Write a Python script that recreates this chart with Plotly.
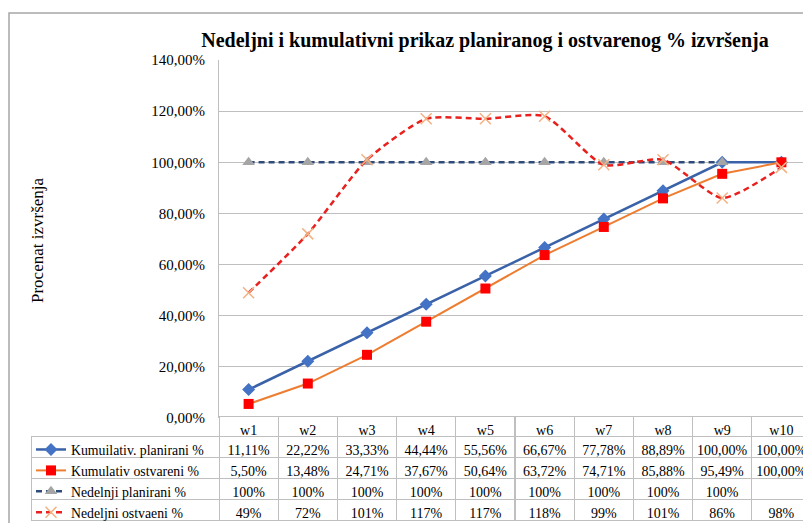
import plotly.graph_objects as go

weeks = ["w1", "w2", "w3", "w4", "w5", "w6", "w7", "w8", "w9", "w10"]
kum_plan = [11.11, 22.22, 33.33, 44.44, 55.56, 66.67, 77.78, 88.89, 100.00, 100.00]
kum_ostv = [5.50, 13.48, 24.71, 37.67, 50.64, 63.72, 74.71, 85.88, 95.49, 100.00]
ned_plan = [100, 100, 100, 100, 100, 100, 100, 100, 100, None]
ned_ostv = [49, 72, 101, 117, 117, 118, 99, 101, 86, 98]

names = ["Kumuilativ. planirani %", "Kumulativ ostvareni %",
         "Nedelnji planirani %", "Nedeljni ostvaeni %"]
yticks = [0, 20, 40, 60, 80, 100, 120, 140]

# page body has an 8px margin: figure is sized so it ends at the window edge
OFF = 8
W, H = 811 - OFF, 523 - OFF
FONT = "Liberation Serif"
GRID = "#bfbfbf"


def fx(px):
    return (px - OFF) / W


def fy(py):
    return 1 - (py - OFF) / H


def fmt2(v):
    return "" if v is None else f"{v:.2f}".replace(".", ",") + "%"


def fmt0(v):
    return "" if v is None else f"{v:.0f}%"


fig = go.Figure()

fig.add_trace(go.Scatter(
    x=weeks, y=kum_plan, name=names[0], mode="lines+markers",
    line=dict(color="#3A62A8", width=2.5),
    marker=dict(symbol="diamond", size=10, color="#4472C4"),
))
fig.add_trace(go.Scatter(
    x=weeks, y=kum_ostv, name=names[1], mode="lines+markers",
    line=dict(color="#ED7D31", width=2),
    marker=dict(symbol="square", size=10, color="#FF0000"),
))
fig.add_trace(go.Scatter(
    x=weeks, y=ned_plan, name=names[2], mode="lines+markers",
    line=dict(color="#2F4B7C", width=2.5, dash="6px,4px"),
    marker=dict(symbol="triangle-up", size=11, color="#A5A5A5"),
))
fig.add_trace(go.Scatter(
    x=weeks, y=ned_ostv, name=names[3], mode="lines+markers",
    line=dict(color="#E8211E", width=2.5, dash="6px,4px", shape="spline", smoothing=0.6),
    marker=dict(symbol="x-thin", size=11, color="#F4B183",
                line=dict(color="#F4B183", width=1.5)),
))

# data table below the plot
header_vals = [""] + weeks
cell_vals = [[""] * 4]
for i in range(len(weeks)):
    cell_vals.append([fmt2(kum_plan[i]), fmt2(kum_ostv[i]),
                      fmt0(ned_plan[i]), fmt0(ned_ostv[i])])

fig.add_trace(go.Table(
    domain=dict(x=[fx(31), 1], y=[0, fy(416)]),
    columnwidth=[188] + [59.2] * 10,
    header=dict(values=header_vals, height=20, align="center",
                fill=dict(color=["rgba(0,0,0,0)"] + ["white"] * 10),
                line=dict(color=["rgba(0,0,0,0)"] + [GRID] * 10, width=1),
                font=dict(family=FONT, size=14, color="#000000")),
    cells=dict(values=cell_vals, height=21, align="center",
               fill=dict(color="white"),
               line=dict(color=GRID, width=1),
               font=dict(family=FONT, size=14, color="#000000")),
))

fig.update_layout(
    width=W, height=H,
    margin=dict(l=0, r=0, t=0, b=0, autoexpand=False),
    paper_bgcolor="white", plot_bgcolor="white",
    font=dict(family=FONT, size=15, color="#000000"),
    title=dict(text="Nedeljni i kumulativni prikaz planiranog i ostvarenog % izvršenja",
               x=fx(485), xanchor="center", y=fy(40), yanchor="middle",
               font=dict(family=FONT, size=20, color="#000000", weight="bold")),
    showlegend=True,
    legend=dict(x=fx(31), xanchor="left", y=fy(434), yanchor="top",
                bgcolor="rgba(0,0,0,0)", font=dict(family=FONT, size=13.8, color="#000000"),
                traceorder="normal"),
    xaxis=dict(domain=[fx(219), 1], type="category", range=[-0.5, 9.5],
               showticklabels=False, showgrid=False, zeroline=False, ticks="",
               automargin=False),
    yaxis=dict(domain=[fy(418), fy(60)], range=[0, 140],
               tickvals=yticks, ticktext=[fmt2(v) for v in yticks],
               showgrid=True, gridcolor=GRID, gridwidth=1,
               showline=True, linecolor=GRID, linewidth=1,
               zeroline=False, ticks="", ticklabelstandoff=10, automargin=False,
               tickfont=dict(family=FONT, size=15, color="#000000")),
    annotations=[dict(text="Procenat izvršenja", xref="paper", yref="paper",
                      x=fx(37), y=fy(240), xanchor="center", yanchor="middle",
                      textangle=-90, showarrow=False,
                      font=dict(family=FONT, size=17, color="#000000"))],
    shapes=[dict(type="rect", xref="paper", yref="paper",
                 x0=fx(9), x1=1.05, y0=-0.05, y1=fy(13),
                 line=dict(color="#a6a6a6", width=1.5), fillcolor="rgba(0,0,0,0)",
                 layer="below")],
)

fig.write_html("out.html")
